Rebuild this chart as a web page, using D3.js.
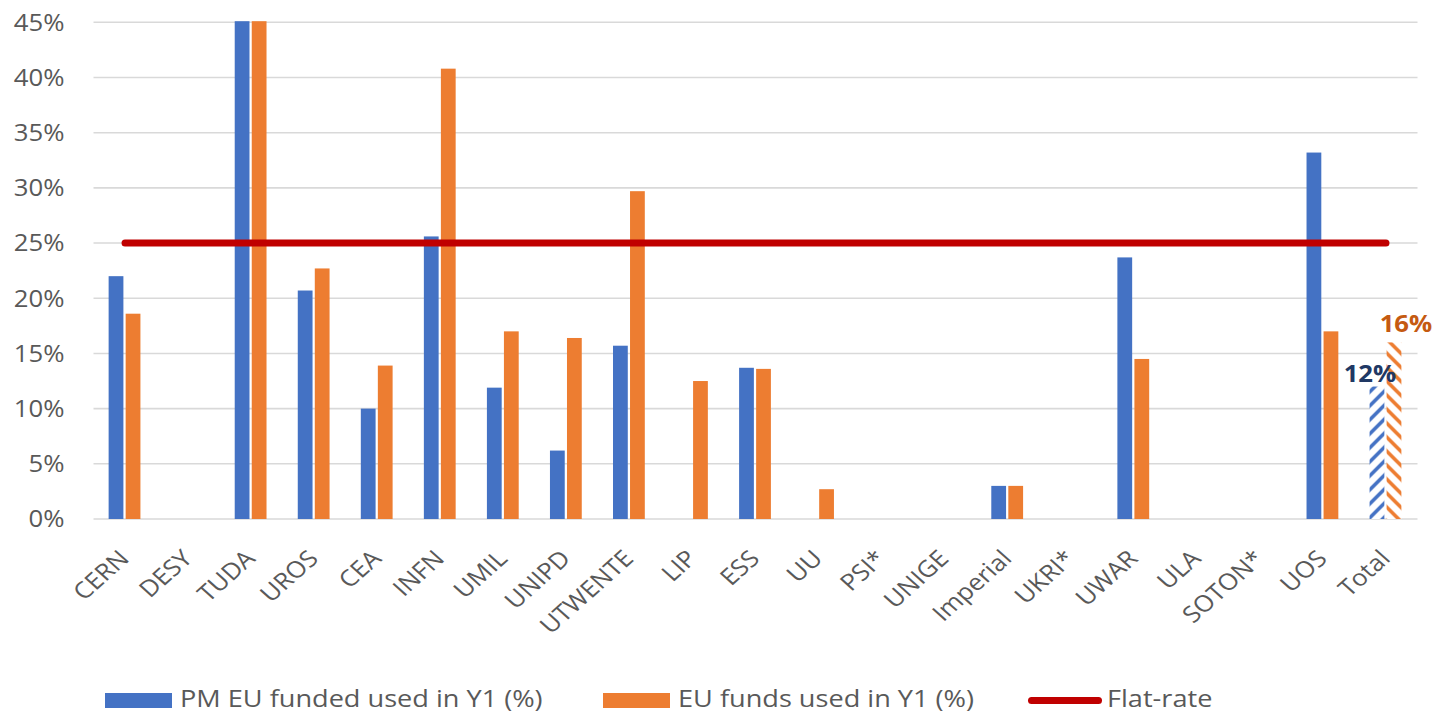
<!DOCTYPE html>
<html>
<head>
<meta charset="utf-8">
<script src="https://cdn.jsdelivr.net/npm/d3@7"></script>
<style>
  html, body { margin: 0; padding: 0; background: #ffffff; }
  svg { display: block; }
  text { font-family: "Open Sans", "DejaVu Sans", sans-serif; }
</style>
</head>
<body>
<svg id="chart" width="1435" height="715"></svg>
<script>
// ---- Data ----
const categories = ["CERN","DESY","TUDA","UROS","CEA","INFN","UMIL","UNIPD","UTWENTE","LIP","ESS","UU","PSI*","UNIGE","Imperial","UKRI*","UWAR","ULA","SOTON*","UOS","Total"];
const pmUsed = [22.0, 0, 45.1, 20.7, 10.0, 25.6, 11.9, 6.2, 15.7, 0, 13.7, 0, 0, 0, 3.0, 0, 23.7, 0, 0, 33.2, 12];
const euUsed = [18.6, 0, 45.1, 22.7, 13.9, 40.8, 17.0, 16.4, 29.7, 12.5, 13.6, 2.7, 0, 0, 3.0, 0, 14.5, 0, 0, 17.0, 16];
const flatRate = 25;
const yTicks = [0, 5, 10, 15, 20, 25, 30, 35, 40, 45];
const seriesNames = ["PM EU funded used in Y1 (%)", "EU funds used in Y1 (%)", "Flat-rate"];
const hatchedCategory = "Total";
const totalLabels = ["12%", "16%"];

// ---- Layout ----
const svg = d3.select("#chart");
const plot = { left: 93.5, right: 1417.5, top: 22.3, bottom: 519 };
const blue = "#4472C4", orange = "#ED7D31", red = "#C00000";
const grey = "#595959";
const stretch = 1.12;

const x = d3.scaleBand().domain(categories).range([plot.left, plot.right]).padding(0);
const y = d3.scaleLinear().domain([0, 45]).range([plot.bottom, plot.top]);
const step = x.bandwidth();
const barW = 13.8, gap = 4.2;
const groupOffset = -0.5;
const sub = d3.scaleBand().domain(["pm", "eu"]).range([0, 2 * barW + gap]).paddingInner(gap / (2 * barW + gap));

// patterns for the hatched Total bars
const defs = svg.append("defs");
function hatch(id, color, dir) {
  const p = defs.append("pattern").attr("id", id).attr("patternUnits", "userSpaceOnUse")
    .attr("width", 14).attr("height", 14);
  p.append("rect").attr("width", 14).attr("height", 14).attr("fill", "#fff");
  const d = dir > 0 ? "M-3,17 L17,-3 M-10,10 L10,-10 M4,24 L24,4" : "M-3,-3 L17,17 M-10,4 L10,24 M4,-10 L24,10";
  p.append("path").attr("d", d).attr("stroke", color).attr("stroke-width", 3.6).attr("fill", "none");
}
hatch("hatchBlue", blue, 1);
hatch("hatchOrange", orange, -1);

// gridlines
svg.append("g").selectAll("line").data(yTicks).join("line")
  .attr("x1", plot.left).attr("x2", plot.right)
  .attr("y1", d => y(d)).attr("y2", d => y(d))
  .attr("stroke", "#d9d9d9").attr("stroke-width", 1.6);

// y axis labels
const yAxis = svg.append("g").attr("transform", `translate(${plot.left},0)`)
  .call(d3.axisLeft(y).tickValues(yTicks).tickFormat(d => d + "%").tickSize(0).tickPadding(0));
yAxis.select(".domain").remove();
yAxis.selectAll("text").attr("fill", grey).style("font-size", "23px")
  .style("font-family", "'Open Sans', sans-serif")
  .attr("x", null).attr("dy", "0.34em")
  .attr("transform", `translate(-29,0) scale(${stretch},1)`);

// bars
const rows = categories.map((c, i) => ({ c, vals: [{ k: "pm", v: pmUsed[i] }, { k: "eu", v: euUsed[i] }] }));
const groups = svg.append("g").selectAll("g").data(rows).join("g")
  .attr("transform", d => `translate(${x(d.c) + step / 2 + groupOffset - (2 * barW + gap) / 2},0)`);
groups.selectAll("rect").data(d => d.vals.map(v => ({ ...v, c: d.c }))).join("rect")
  .attr("x", d => sub(d.k))
  .attr("width", sub.bandwidth())
  .attr("y", d => y(d.v))
  .attr("height", d => y(0) - y(d.v))
  .attr("fill", d => d.c === hatchedCategory
    ? (d.k === "pm" ? "url(#hatchBlue)" : "url(#hatchOrange)")
    : (d.k === "pm" ? blue : orange));

// flat-rate line
const lineGen = d3.line().x(d => x(d) + step / 2).y(() => y(flatRate));
svg.append("path").datum([categories[0], categories[categories.length - 1]])
  .attr("d", lineGen).attr("stroke", red).attr("stroke-width", 7)
  .attr("stroke-linecap", "round").attr("fill", "none");

// Total labels
const ti = categories.indexOf(hatchedCategory);
const tc = x(hatchedCategory) + step / 2;
svg.append("text").attr("transform", `translate(${tc - 16},${y(pmUsed[ti]) - 5}) scale(${stretch},1)`)
  .attr("text-anchor", "middle").attr("fill", "#203864")
  .style("font-size", "23px").style("font-weight", "bold").text(totalLabels[0]);
svg.append("text").attr("transform", `translate(${tc + 20},${y(euUsed[ti]) - 10}) scale(${stretch},1)`)
  .attr("text-anchor", "middle").attr("fill", "#C55A11")
  .style("font-size", "23px").style("font-weight", "bold").text(totalLabels[1]);

// x axis labels (rotated, glyphs slightly stretched horizontally like the reference)
const xAxis = svg.append("g").attr("transform", `translate(0,${plot.bottom})`)
  .call(d3.axisBottom(x).tickSize(0).tickPadding(0));
xAxis.select(".domain").remove();
xAxis.selectAll("text")
  .attr("fill", grey).style("font-size", "23px")
  .style("font-family", "'Open Sans', sans-serif")
  .attr("text-anchor", "end")
  .attr("y", null).attr("dy", null)
  .attr("transform", `translate(5.5,41) scale(${stretch},1) rotate(-45)`);

// legend
const legend = svg.append("g");
const legendX = [105, 603, 1028];
const legendY = 700.5;
legend.append("rect").attr("x", legendX[0]).attr("y", legendY - 7.5).attr("width", 67).attr("height", 15).attr("fill", blue);
legend.append("rect").attr("x", legendX[1]).attr("y", legendY - 7.5).attr("width", 67).attr("height", 15).attr("fill", orange);
legend.append("line").attr("x1", legendX[2] + 3.5).attr("x2", 1102 - 3.5).attr("y1", legendY).attr("y2", legendY)
  .attr("stroke", red).attr("stroke-width", 7).attr("stroke-linecap", "round");
const legendTextX = [180, 678, 1107];
legend.selectAll("text").data(seriesNames).join("text")
  .attr("transform", (d, i) => `translate(${legendTextX[i]},${legendY + 6.5}) scale(1.18,1)`)
  .attr("fill", grey).style("font-size", "23px").text(d => d);
</script>
</body>
</html>
